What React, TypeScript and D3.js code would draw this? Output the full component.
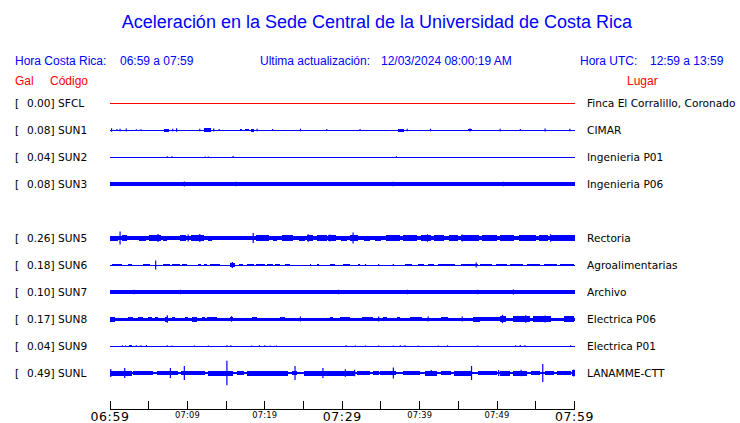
import * as d3 from "d3";

// ---- data ----
const stations = ["SFCL", "SUN1", "SUN2", "SUN3", "SUN5", "SUN6", "SUN7", "SUN8", "SUN9", "SUNL"];
const places = [
  "Finca El Corralillo, Coronado",
  "CIMAR",
  "Ingenieria P01",
  "Ingenieria P06",
  "Rectoria",
  "Agroalimentarias",
  "Archivo",
  "Electrica P06",
  "Electrica P01",
  "LANAMME-CTT",
];
const peaks = [0.0, 0.08, 0.04, 0.08, 0.26, 0.18, 0.1, 0.17, 0.04, 0.49];
// channel row (SUN4 row is empty)
const rows = [0, 1, 2, 3, 5, 6, 7, 8, 9, 10];

// noise bands per trace: [startMin, endMin, halfAmplitude Gal]
const bands: [number, number, number][][] = [
  [],
  [[7.0, 7.6, 0.06], [12.2, 13.0, 0.08], [16.8, 17.0, 0.04], [17.4, 18.0, 0.05], [18.2, 18.6, 0.06], [37.2, 38.0, 0.06], [46.3, 46.7, 0.05]],
  [],
  [[0, 60, 0.07], [0, 12.5, 0.085], [14, 16, 0.085], [17, 19, 0.085], [20, 24, 0.085], [25, 30, 0.085], [31, 36, 0.08], [37, 40, 0.085], [41, 48, 0.085], [49, 55, 0.085], [56, 60, 0.085]],
  [[0, 60, 0.075], [0.0, 1.0, 0.1], [1.6, 2.2, 0.11], [2.8, 3.2, 0.09], [3.8, 4.6, 0.1], [5.0, 6.6, 0.12], [6.9, 7.3, 0.1], [8.2, 8.8, 0.09], [9.0, 9.8, 0.12], [10.4, 11.2, 0.11], [11.3, 12.2, 0.13], [12.6, 13.2, 0.1], [14.5, 15.0, 0.09], [16.2, 16.8, 0.09], [17.8, 18.2, 0.09], [18.8, 20.5, 0.11], [21.0, 21.6, 0.1], [22.2, 23.6, 0.11], [24.4, 25.2, 0.1], [25.4, 26.2, 0.12], [26.8, 28.0, 0.11], [28.2, 29.2, 0.12], [29.8, 30.6, 0.1], [31.0, 32.0, 0.11], [32.8, 33.6, 0.1], [34.2, 35.0, 0.1], [35.6, 37.4, 0.11], [37.8, 39.6, 0.11], [40.2, 41.4, 0.11], [41.8, 43.2, 0.11], [43.8, 45.0, 0.11], [45.4, 47.6, 0.12], [48, 50, 0.11], [50.4, 52.2, 0.11], [52.8, 55.0, 0.11], [55.4, 56.6, 0.11], [56.8, 60, 0.12]],
  [[0.3, 1.6, 0.05], [2.3, 2.8, 0.045], [4.3, 5.2, 0.05], [6.9, 7.8, 0.05], [8.0, 9.1, 0.05], [9.3, 10.0, 0.045], [11.4, 11.8, 0.045], [12.1, 12.5, 0.045], [12.9, 14.2, 0.05], [15.5, 16.2, 0.09], [16.6, 17.2, 0.05], [17.7, 18.6, 0.05], [18.9, 20.0, 0.05], [20.3, 21.0, 0.045], [21.3, 22.0, 0.05], [22.6, 23.3, 0.05], [25.8, 26.0, 0.045], [26.8, 27.0, 0.045], [28.4, 29.1, 0.05], [30.1, 31.0, 0.05], [32.0, 32.3, 0.045], [38.1, 39.0, 0.05], [39.8, 40.5, 0.045], [41.1, 41.8, 0.05], [42.4, 44.6, 0.05], [45.3, 47.5, 0.045], [47.8, 49.4, 0.05], [49.8, 51.3, 0.05], [51.7, 53.4, 0.05], [53.8, 55.6, 0.05], [56.0, 57.8, 0.05], [58.1, 59.9, 0.05]],
  [[0, 60, 0.065], [0, 3, 0.075], [55.5, 60, 0.08]],
  [[0, 60, 0.06], [0, 0.6, 0.1], [2.3, 3.0, 0.095], [3.6, 4.3, 0.095], [4.9, 5.4, 0.09], [5.8, 6.2, 0.095], [7.1, 7.5, 0.1], [8.0, 8.4, 0.095], [9.7, 10.1, 0.09], [10.6, 11.2, 0.1], [11.9, 12.3, 0.09], [12.5, 13.8, 0.095], [15.5, 15.9, 0.095], [18.4, 19.0, 0.095], [22.0, 22.6, 0.095], [28.4, 28.8, 0.09], [29.7, 31.0, 0.095], [32.6, 34.0, 0.09], [35.3, 35.8, 0.09], [37.1, 37.5, 0.09], [38.8, 40.3, 0.095], [42.7, 43.6, 0.095], [46.9, 47.8, 0.1], [47.8, 50.4, 0.085], [50.4, 51.1, 0.12], [52.1, 54.3, 0.12], [54.7, 56.9, 0.11], [58.6, 59.9, 0.11]],
  [[2.4, 2.9, 0.035]],
  [[0, 60, 0.045], [0, 2.8, 0.1], [3.0, 5.6, 0.08], [6.1, 8.8, 0.09], [9.2, 12.3, 0.09], [12.7, 15.9, 0.1], [16.4, 17.3, 0.08], [17.7, 23.0, 0.1], [23.5, 24.2, 0.08], [25.0, 29.7, 0.1], [29.7, 31.7, 0.1], [31.9, 33.6, 0.09], [34.0, 34.7, 0.07], [34.9, 36.9, 0.09], [37.9, 40.1, 0.09], [40.7, 42.3, 0.1], [42.7, 44.0, 0.09], [44.4, 46.8, 0.1], [47.5, 50.0, 0.09], [50.4, 51.7, 0.1], [52.1, 53.9, 0.1], [54.4, 55.6, 0.07], [56.2, 57.3, 0.09], [57.7, 59.5, 0.09], [59.7, 60, 0.11]],
];

// single spikes per trace: [minute, halfAmplitude Gal]
const spikes: [number, number][][] = [
  [],
  [[0.2, 0.07], [0.9, 0.04], [1.3, 0.05], [2.1, 0.06], [3.4, 0.03], [4.0, 0.03], [8.1, 0.05], [8.6, 0.07], [11.6, 0.05], [13.4, 0.06], [14.1, 0.04], [19.0, 0.05], [21.0, 0.04], [24.6, 0.05], [28.0, 0.04], [32.3, 0.04], [38.4, 0.05], [41.4, 0.05], [46.5, 0.06], [50.4, 0.05], [53.0, 0.04], [56.2, 0.06], [59.4, 0.05]],
  [[7.4, 0.03], [8.0, 0.03], [12.3, 0.02], [12.7, 0.02], [15.9, 0.04], [37.0, 0.03]],
  [[9.6, 0.1], [16.3, 0.09], [36.6, 0.09], [50.8, 0.09]],
  [[1.3, 0.26], [6.2, 0.16], [10.1, 0.14], [11.6, 0.16], [18.5, 0.2], [25.6, 0.15], [28.4, 0.14], [31.4, 0.22], [41.0, 0.15], [45.5, 0.14], [56.9, 0.15]],
  [[5.9, 0.18], [15.8, 0.12], [33.0, 0.04], [34.7, 0.04], [36.6, 0.04], [47.3, 0.1]],
  [[3.1, 0.09], [9.1, 0.09], [15.8, 0.08], [29.5, 0.09], [36.2, 0.08], [38.4, 0.09], [47.5, 0.09], [52.1, 0.1]],
  [[7.4, 0.15], [15.7, 0.11], [24.6, 0.1], [34.7, 0.1], [41.1, 0.1], [45.5, 0.1], [50.7, 0.17], [53.7, 0.15], [56.2, 0.14]],
  [[1.6, 0.03], [2.0, 0.02], [3.4, 0.03], [4.0, 0.03], [4.7, 0.04], [7.4, 0.03], [8.0, 0.02], [10.9, 0.02], [12.7, 0.02], [15.1, 0.03], [15.6, 0.03], [18.3, 0.02], [19.3, 0.03], [20.0, 0.03], [20.7, 0.02], [21.5, 0.02], [30.5, 0.03], [31.7, 0.02], [33.0, 0.02], [34.7, 0.02], [36.6, 0.02], [37.5, 0.03], [38.1, 0.03], [39.8, 0.02], [42.4, 0.02], [43.6, 0.03], [47.5, 0.02], [52.4, 0.03], [53.0, 0.04], [53.6, 0.03], [59.5, 0.03]],
  [[0.1, 0.16], [1.9, 0.2], [7.8, 0.2], [9.6, 0.28], [15.1, 0.49], [23.9, 0.28], [27.5, 0.2], [30.4, 0.15], [31.6, 0.13], [36.6, 0.22], [41.5, 0.12], [46.7, 0.28], [50.2, 0.12], [53.1, 0.13], [55.9, 0.36], [59.9, 0.14]],
];

const tickLabels = ["06:59", "07:09", "07:19", "07:29", "07:39", "07:49", "07:59"];
const bigLabels = ["06:59", "07:29", "07:59"];

// ---- layout ----
const W = 740;
const H = 423;
const BLUE = "#0000ff";
const RED = "#ff0000";
const sans = "'Liberation Sans', Arial, sans-serif";
const dejavu = "'DejaVu Sans', sans-serif";

const t0 = new Date(2024, 2, 12, 6, 59);
const t1 = new Date(2024, 2, 12, 7, 59);
const minute = (m: number) => new Date(t0.getTime() + m * 60000);

const x = d3.scaleTime().domain([t0, t1]).range([110, 574.5]);
const y = d3.scaleLinear().domain([0, 10]).range([103, 373]);
const amp = d3.scaleLinear().domain([0, 0.5]).range([0, 12.5]);
const fmt = d3.timeFormat("%H:%M");
// ticks every 5 minutes counted from the window start
const ticks = d3.timeMinute.range(t0, new Date(+t1 + 1), 5);

export default function App() {
  return (
    <svg width={W} height={H} style={{ display: "block", position: "absolute", left: 0, top: 0, background: "#fff" }}>
      <text x={377} y={28} textAnchor="middle" fontFamily={sans} fontSize={18} fill={BLUE}>
        Aceleración en la Sede Central de la Universidad de Costa Rica
      </text>

      <g fontFamily={sans} fontSize={12} fill={BLUE}>
        <text x={15} y={65}>Hora Costa Rica:</text>
        <text x={120} y={65}>06:59 a 07:59</text>
        <text x={260} y={65}>Ultima actualización:</text>
        <text x={381} y={65}>12/03/2024 08:00:19 AM</text>
        <text x={580} y={65}>Hora UTC:</text>
        <text x={650} y={65}>12:59 a 13:59</text>
      </g>
      <g fontFamily={sans} fontSize={12} fill={RED}>
        <text x={15} y={84.5}>Gal</text>
        <text x={50} y={84.5}>Código</text>
        <text x={627} y={84.5}>Lugar</text>
      </g>

      {stations.map((s, i) => {
        const yc = y(rows[i]);
        const color = i === 0 ? RED : BLUE;
        return (
          <g key={s}>
            <g fontFamily={dejavu} fontSize={10.6} fill="#000">
              <text x={15} y={yc + 4}>[</text>
              <text x={27} y={yc + 4}>{`${peaks[i].toFixed(2)}] ${s}`}</text>
              <text x={587} y={yc + 4}>{places[i]}</text>
            </g>
            <line x1={x(t0)} x2={x(t1)} y1={yc} y2={yc} stroke={color} strokeWidth={1} shapeRendering="crispEdges" />
            {bands[i].map(([a, b, v], j) => {
              const x0 = x(minute(a));
              const w = Math.max(1, x(minute(b)) - x0);
              const hh = Math.max(0.5, amp(v));
              return <rect key={"b" + j} x={x0} y={yc - hh} width={w} height={hh * 2} fill={color} shapeRendering="crispEdges" />;
            })}
            {spikes[i].map(([m, v], j) => {
              const xs = x(minute(m));
              return <line key={"s" + j} x1={xs} x2={xs} y1={yc - amp(v)} y2={yc + amp(v)} stroke={color} strokeWidth={1.2} />;
            })}
          </g>
        );
      })}

      <g>
        <line x1={x(t0)} x2={x(t1)} y1={409} y2={409} stroke="#000" strokeWidth={1} shapeRendering="crispEdges" />
        {ticks.map((t) => (
          <line key={+t} x1={x(t)} x2={x(t)} y1={401} y2={409} stroke="#000" strokeWidth={1} shapeRendering="crispEdges" />
        ))}
        {ticks
          .filter((t) => tickLabels.includes(fmt(t)))
          .map((t) => {
            const lab = fmt(t);
            const big = bigLabels.includes(lab);
            return (
              <text
                key={lab}
                x={x(t)}
                y={big ? 420.5 : 418}
                textAnchor="middle"
                fontFamily={dejavu}
                fontSize={big ? 12.5 : 8.3}
                letterSpacing={big ? 0.6 : 0.2}
                fill="#000"
              >
                {lab}
              </text>
            );
          })}
      </g>
    </svg>
  );
}
